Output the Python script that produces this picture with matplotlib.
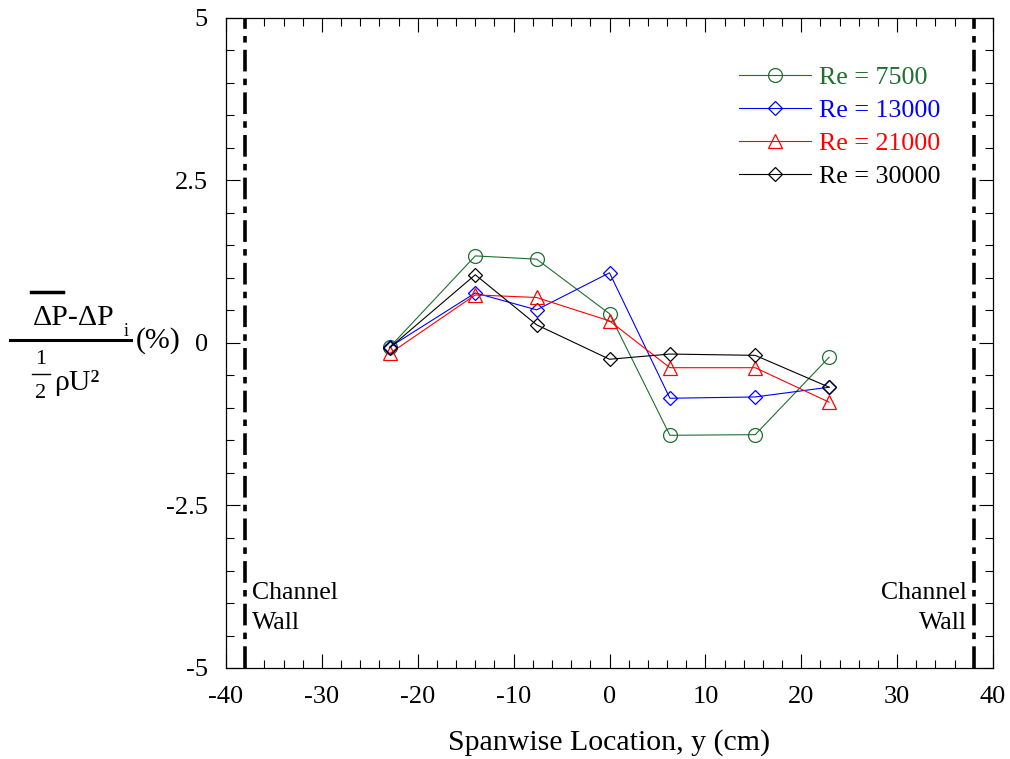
import matplotlib
matplotlib.use("Agg")
import matplotlib.pyplot as plt
from matplotlib.lines import Line2D
from matplotlib.ticker import MultipleLocator

plt.rcParams['font.family'] = ['Liberation Serif', 'DejaVu Serif']
plt.rcParams['mathtext.fontset'] = 'stix'

# Spanwise measurement stations (cm)
y_loc = [-22.9, -14.0, -7.6, 0.0, 6.3, 15.2, 22.9]

# Normalised pressure-drop deviation (%) for each Reynolds number
re_7500 = [-0.06, 1.34, 1.29, 0.45, -1.42, -1.41, -0.22]
re_13000 = [-0.06, 0.77, 0.51, 1.08, -0.85, -0.83, -0.68]
re_21000 = [-0.16, 0.74, 0.70, 0.34, -0.38, -0.38, -0.91]
re_30000 = [-0.07, 1.05, 0.28, -0.25, -0.17, -0.19, -0.68]

labels = ['Re = 7500', 'Re = 13000', 'Re = 21000', 'Re = 30000']
wall_pos = [-38, 38]

W, H = 1010, 759
fig = plt.figure(figsize=(W / 100, H / 100), dpi=100)
ax = fig.add_axes([226 / W, 1 - 668 / H, (993 - 226) / W, (668 - 18) / H])

green, blue, red, black = '#1e7030', '#0000ff', '#ff0000', '#000000'
lw = 0.8
ax.plot(y_loc, re_7500, color=green, lw=lw, marker='o', ms=10, mfc='none', mec=green, mew=0.9, label=labels[0])
ax.plot(y_loc, re_13000, color=blue, lw=lw, marker='D', ms=7, mfc='none', mec=blue, mew=0.9, label=labels[1])
ax.plot(y_loc, re_21000, color=red, lw=lw, marker='^', ms=10, mfc='none', mec=red, mew=0.9, label=labels[2])
ax.plot(y_loc, re_30000, color=black, lw=lw, marker='D', ms=7, mfc='none', mec=black, mew=0.9, label=labels[3])

# Channel walls
for xw in wall_pos:
    ax.axvline(xw, color='black', lw=2.6, dashes=(6, 2, 1.8, 2))

ax.text(-37.3, -4.08, 'Channel\nWall', fontsize=18.5, ha='left', va='center', linespacing=1.5)
ax.text(37.3, -4.08, 'Channel\nWall', fontsize=18.5, ha='right', va='center', multialignment='right', linespacing=1.5)

ax.set_xlim(-40, 40)
ax.set_ylim(-5, 5)
ax.xaxis.set_major_locator(MultipleLocator(10))
ax.xaxis.set_minor_locator(MultipleLocator(2))
ax.yaxis.set_major_locator(MultipleLocator(2.5))
ax.yaxis.set_minor_locator(MultipleLocator(0.5))
ax.set_yticks([-5, -2.5, 0, 2.5, 5])
ax.set_yticklabels(['-5', '-2.5', '0', '2.5', '5'])
ax.set_xticklabels([str(int(v)) for v in ax.get_xticks()])
ax.tick_params(which='both', direction='in', top=True, right=True, labelsize=19, width=0.8, colors='black')
ax.tick_params(which='major', length=10)
ax.tick_params(which='minor', length=5.5)
ax.tick_params(axis='x', pad=13)
ax.tick_params(axis='y', pad=13)
for s in ax.spines.values():
    s.set_linewidth(0.9)

ax.set_xlabel('Spanwise Location, y (cm)', fontsize=21.5, labelpad=15)

leg = ax.legend(loc='upper right', bbox_to_anchor=(0.931, 0.926), frameon=False, fontsize=18.7,
                handlelength=2.77, handletextpad=0.3, labelspacing=0.37, borderpad=0,
                borderaxespad=0, labelcolor='linecolor')

# Y-axis label drawn as a stacked fraction
def fx(px):
    return px / W

def fy(py):
    return 1 - py / H

fig.text(fx(74), fy(318), r'ΔP-ΔP', fontsize=21.5, ha='center', va='center')
fig.text(fx(126), fy(331), 'i', fontsize=13, ha='center', va='center')
fig.add_artist(Line2D([fx(31), fx(63)], [fy(292), fy(292)], color='black', lw=2.5))
fig.add_artist(Line2D([fx(10), fx(131)], [fy(340), fy(340)], color='black', lw=2.2))
fig.text(fx(158), fy(341), '(%)', fontsize=21.5, ha='center', va='center')
fig.text(fx(41), fy(359), '1', fontsize=16, ha='center', va='center')
fig.add_artist(Line2D([fx(32), fx(50)], [fy(374), fy(374)], color='black', lw=1.0))
fig.text(fx(41), fy(393), '2', fontsize=16, ha='center', va='center')
fig.text(fx(77), fy(383), 'ρU²', fontsize=21.5, ha='center', va='center')

fig.savefig('out.png', dpi=100)
